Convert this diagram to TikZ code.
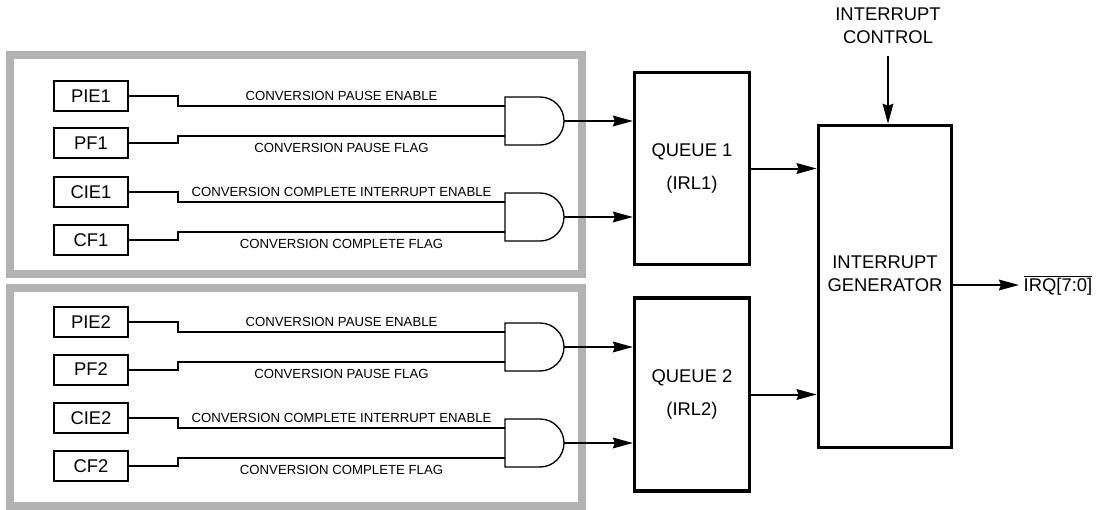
\documentclass[tikz,border=0pt]{standalone}
\usepackage{fontspec}
\setmainfont{Liberation Sans}
\usetikzlibrary{arrows.meta}

\begin{document}
\begin{tikzpicture}[
        x=0.75pt, y=-0.75pt,
        every node/.style={font=\fontsize{13.8}{17}\selectfont},
        flag/.style={draw, line width=1.5pt, minimum width=55.5pt, minimum height=22.5pt, inner sep=0pt},
        block/.style={draw, line width=2.6pt, inner sep=0pt, align=center},
        wire/.style={line width=1.5pt},
        sig/.style={font=\fontsize{9.9}{11}\selectfont, inner sep=0pt},
        frame/.style={draw=black!30, line width=6pt},
        arr/.style={line width=1.5pt, -{Stealth[length=15pt, width=8pt, inset=1.5pt]}},
        andgate/.pic={
          \draw[line width=1pt] (0,-24) -- (35,-24) arc[start angle=-90, end angle=90, radius=24] -- (0,24) -- cycle;
          \coordinate (-in1) at (0,-15);
          \coordinate (-in2) at (0,15);
          \coordinate (-out) at (59,0);
        }
      ]
      \useasboundingbox (0,0) rectangle (1097,510);
      \draw[frame] (9.5,55) rectangle (582,274);
      \draw[frame] (9.5,287.5) rectangle (582,506);

      \node[flag] (pie1) at (91,96)    {PIE1};
      \node[flag] (pf1)  at (91,143.5) {PF1};
      \node[flag] (cie1) at (91,192)   {CIE1};
      \node[flag] (cf1)  at (91,240)   {CF1};
      \node[flag] (pie2) at (91,322)   {PIE2};
      \node[flag] (pf2)  at (91,369.5) {PF2};
      \node[flag] (cie2) at (91,418)   {CIE2};
      \node[flag] (cf2)  at (91,466)   {CF2};

      \pic (g1) at (505,121) {andgate};
      \pic (g2) at (505,217) {andgate};
      \pic (g3) at (505,347) {andgate};
      \pic (g4) at (505,443) {andgate};

      \node[block, minimum width=86pt, minimum height=144pt] (q1) at (692,168.5) {QUEUE 1\\[7.5pt](IRL1)};
      \node[block, minimum width=86pt, minimum height=144.75pt] (q2) at (692,394.5) {QUEUE 2\\[7.5pt](IRL2)};
      \node[block, minimum width=100pt, minimum height=241.5pt] (gen) at (885,286.5) {};
      \node[align=center] (gentext) at (885,273.5) {INTERRUPT\\GENERATOR};
      \node[align=center] (ctrl) at (888,25.5) {INTERRUPT\\CONTROL};
      \node[anchor=west] (irq) at (1019,285) {$\overline{\mbox{IRQ[7:0]}}$};

      \draw[wire] (pie1.east) -- ++(49,0) |- (g1-in1) node[sig, pos=0.75, above=3pt] {CONVERSION PAUSE ENABLE};
      \draw[wire] (pf1.east)  -- ++(49,0) |- (g1-in2) node[sig, pos=0.75, below=5pt] {CONVERSION PAUSE FLAG};
      \draw[wire] (cie1.east) -- ++(49,0) |- (g2-in1) node[sig, pos=0.75, above=3pt] {CONVERSION COMPLETE INTERRUPT ENABLE};
      \draw[wire] (cf1.east)  -- ++(49,0) |- (g2-in2) node[sig, pos=0.75, below=5pt] {CONVERSION COMPLETE FLAG};
      \draw[wire] (pie2.east) -- ++(49,0) |- (g3-in1) node[sig, pos=0.75, above=3pt] {CONVERSION PAUSE ENABLE};
      \draw[wire] (pf2.east)  -- ++(49,0) |- (g3-in2) node[sig, pos=0.75, below=5pt] {CONVERSION PAUSE FLAG};
      \draw[wire] (cie2.east) -- ++(49,0) |- (g4-in1) node[sig, pos=0.75, above=3pt] {CONVERSION COMPLETE INTERRUPT ENABLE};
      \draw[wire] (cf2.east)  -- ++(49,0) |- (g4-in2) node[sig, pos=0.75, below=5pt] {CONVERSION COMPLETE FLAG};

      \draw[arr] (g1-out) -- (g1-out -| q1.west);
      \draw[arr] (g2-out) -- (g2-out -| q1.west);
      \draw[arr] (g3-out) -- (g3-out -| q2.west);
      \draw[arr] (g4-out) -- (g4-out -| q2.west);
      \draw[arr] (q1.east) -- (q1.east -| gen.west);
      \draw[arr] (q2.east) -- (q2.east -| gen.west);
      \draw[arr, shorten <=6pt] (ctrl.south) -- (ctrl.south |- gen.north);
      \draw[arr] (gen.east |- irq.west) -- (irq.west);
    \end{tikzpicture}
\end{document}
